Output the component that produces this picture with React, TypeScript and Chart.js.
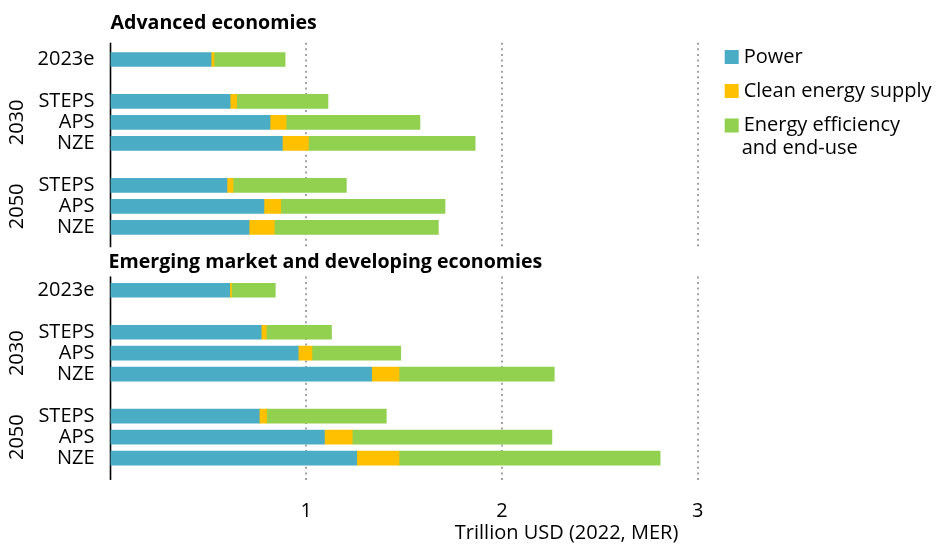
import { useEffect, useRef } from "react";
import { Chart, registerables } from "chart.js";

Chart.register(...registerables);

// ---- Data ----
const panelTitles = ["Advanced economies", "Emerging market and developing economies"];
const rowLabels = ["2023e", "STEPS", "APS", "NZE", "STEPS", "APS", "NZE"];
const yearGroups = ["2030", "2050"];
const seriesNames = ["Power", "Clean energy supply", "Energy efficiency and end-use"];
const seriesColors = ["#4BACC6", "#FFC000", "#92D050"];

const advPower = [0.514, 0.611, 0.815, 0.878, 0.595, 0.784, 0.708];
const advClean = [0.015, 0.034, 0.082, 0.133, 0.031, 0.086, 0.129];
const advEfficiency = [0.363, 0.466, 0.684, 0.852, 0.579, 0.839, 0.838];

const emdePower = [0.609, 0.77, 0.959, 1.334, 0.76, 1.093, 1.258];
const emdeClean = [0.009, 0.026, 0.07, 0.14, 0.038, 0.142, 0.216];
const emdeEfficiency = [0.224, 0.333, 0.454, 0.793, 0.611, 1.02, 1.334];

const xTicks = [1, 2, 3];
const xMax = 3;
const xTitle = "Trillion USD (2022, MER)";

// ---- Row layout (title slot, bars, gaps) ----
// pattern: -1 = empty row, n = index into rowLabels
const panelPattern = [-1, 0, -1, 1, 2, 3, -1, 4, 5, 6];
type Row = { label: string; panel: number; idx: number };
const rows: Row[] = [];
panelPattern.forEach((i) => rows.push({ label: i >= 0 ? rowLabels[i] : "", panel: 0, idx: i }));
rows.push({ label: "", panel: 0, idx: -1 });
panelPattern.forEach((i) => rows.push({ label: i >= 0 ? rowLabels[i] : "", panel: 1, idx: i }));

const panelSeries = [
  [advPower, advClean, advEfficiency],
  [emdePower, emdeClean, emdeEfficiency],
];

const buildSeries = (s: number) =>
  rows.map((r) => (r.idx >= 0 ? panelSeries[r.panel][s][r.idx] : null));

const FONT = "'Open Sans', 'Noto Sans', sans-serif";

const decorPlugin = {
  id: "decor",
  beforeDatasetsDraw(chart: any) {
    const ctx = chart.ctx;
    const xs = chart.scales.x;
    const ys = chart.scales.y;
    const step = ys.getPixelForValue(1) - ys.getPixelForValue(0);
    const startTop = ys.getPixelForValue(1) - 0.8 * step;
    const endTop = ys.getPixelForValue(9) + 0.95 * step;
    const startBot = ys.getPixelForValue(12) - 0.66 * step;
    const endBot = ys.getPixelForValue(20) + 1.04 * step;
    const segs = [
      [startTop, endTop],
      [startBot, endBot],
    ];
    ctx.save();
    // dotted gridlines
    ctx.strokeStyle = "#a3a3a3";
    ctx.lineWidth = 2;
    ctx.setLineDash([2, 3.6]);
    xTicks.forEach((v) => {
      const x = Math.round(xs.getPixelForValue(v));
      segs.forEach(([a, b]) => {
        ctx.beginPath();
        ctx.moveTo(x, a);
        ctx.lineTo(x, b);
        ctx.stroke();
      });
    });
    ctx.setLineDash([]);
    // axis lines
    ctx.strokeStyle = "#000";
    ctx.lineWidth = 1.6;
    const x0 = xs.getPixelForValue(0);
    segs.forEach(([a, b]) => {
      ctx.beginPath();
      ctx.moveTo(x0, a);
      ctx.lineTo(x0, b);
      ctx.stroke();
    });
    ctx.restore();
  },
  afterDraw(chart: any) {
    const ctx = chart.ctx;
    const xs = chart.scales.x;
    const ys = chart.scales.y;
    const step = ys.getPixelForValue(1) - ys.getPixelForValue(0);
    const x0 = xs.getPixelForValue(0);
    ctx.save();
    ctx.fillStyle = "#000";
    // panel titles
    ctx.font = `bold 19.6px ${FONT}`;
    ctx.textAlign = "left";
    ctx.textBaseline = "middle";
    ctx.fillText(panelTitles[0], x0, ys.getPixelForValue(0) - 0.7 * step);
    ctx.fillText(panelTitles[1], x0 - 2, ys.getPixelForValue(11) - 0.31 * step);
    // rotated year labels, centred on APS rows
    ctx.font = `20px ${FONT}`;
    ctx.textAlign = "center";
    const apsRows = [4, 8, 15, 19];
    apsRows.forEach((r, i) => {
      ctx.save();
      ctx.translate(17, ys.getPixelForValue(r));
      ctx.rotate(-Math.PI / 2);
      ctx.fillText(yearGroups[i % 2], 0, 0);
      ctx.restore();
    });
    // x-axis title
    ctx.font = `20px ${FONT}`;
    ctx.textAlign = "center";
    ctx.fillText(xTitle, xs.getPixelForValue(2.33), 533);
    // legend
    const lx = xs.right + 27;
    const ly = [57, 91, 125.5];
    ctx.textAlign = "left";
    ctx.font = `20px ${FONT}`;
    seriesNames.forEach((name, i) => {
      ctx.fillStyle = seriesColors[i];
      ctx.fillRect(lx, ly[i] - 7, 14, 14);
      ctx.fillStyle = "#000";
      if (i === 2) {
        ctx.fillText("Energy efficiency", lx + 19, ly[i]);
        ctx.fillText("and end-use", lx + 17, ly[i] + 23);
      } else {
        ctx.fillText(name, lx + 19, ly[i]);
      }
    });
    ctx.restore();
  },
};

export default function App() {
  const ref = useRef<HTMLCanvasElement>(null);
  useEffect(() => {
    if (!ref.current) return;
    const chart = new Chart(ref.current, {
      type: "bar",
      data: {
        labels: rows.map((r) => r.label),
        datasets: seriesNames.map((name, s) => ({
          label: name,
          data: buildSeries(s),
          backgroundColor: seriesColors[s],
          borderWidth: 0,
          barThickness: 14,
        })),
      },
      options: {
        indexAxis: "y",
        animation: false,
        responsive: false,
        maintainAspectRatio: false,
        layout: { padding: { top: 24.2, right: 250.3, left: 0, bottom: 0 } },
        plugins: { legend: { display: false }, tooltip: { enabled: false } },
        scales: {
          x: {
            type: "linear",
            stacked: true,
            min: 0,
            max: xMax,
            afterFit: (s: any) => {
              s.height = 78.4;
            },
            grid: { display: false, drawTicks: false },
            border: { display: false },
            ticks: {
              stepSize: 1,
              padding: 31,
              color: "#000",
              font: { family: FONT, size: 20 },
              callback: (v: any) => (xTicks.includes(Number(v)) ? String(v) : ""),
            },
          },
          y: {
            stacked: true,
            afterFit: (s: any) => {
              s.width = 110.5;
            },
            grid: { display: false, drawTicks: false },
            border: { display: false },
            ticks: {
              padding: 16,
              color: "#000",
              autoSkip: false,
              font: { family: FONT, size: 20 },
            },
          },
        },
      },
      plugins: [decorPlugin],
    });
    return () => chart.destroy();
  }, []);
  return (
    <div style={{ position: "fixed", left: 0, top: 0, width: 948, height: 547, background: "#fff" }}>
      <canvas ref={ref} width={948} height={547} />
    </div>
  );
}
